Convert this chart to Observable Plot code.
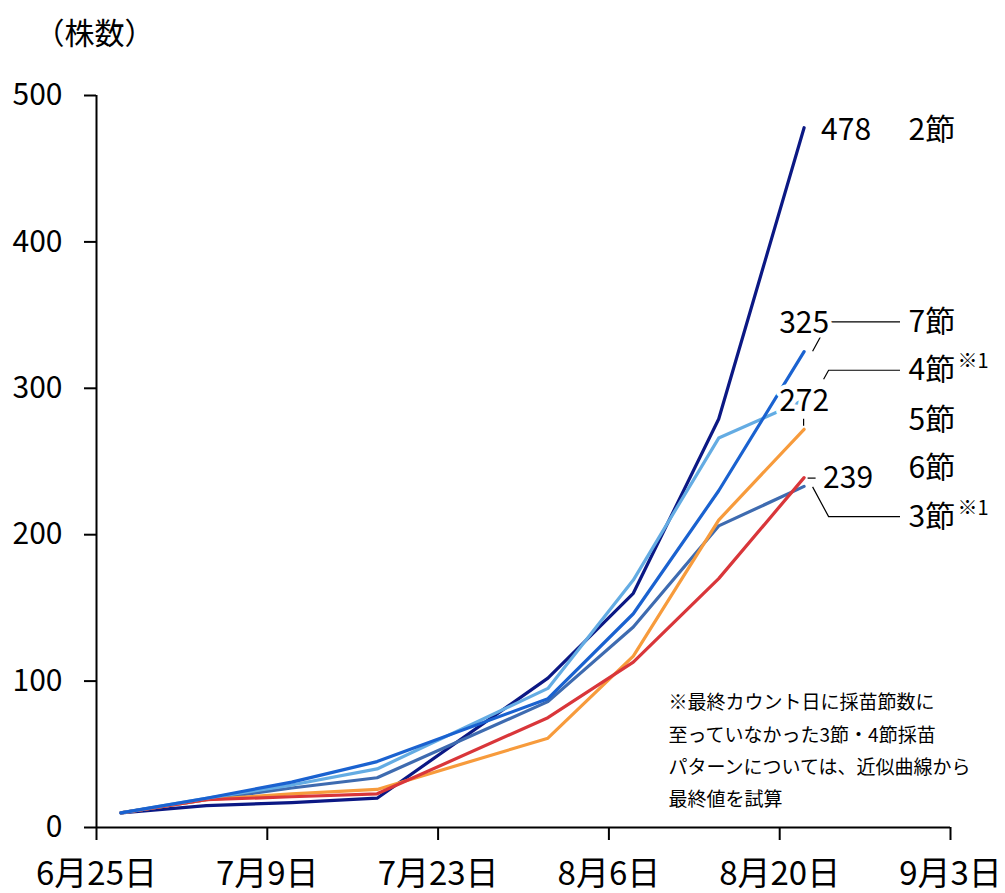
<!DOCTYPE html>
<html>
<head>
<meta charset="utf-8">
<script src="https://cdn.jsdelivr.net/npm/d3@7"></script>
<script src="https://cdn.jsdelivr.net/npm/@observablehq/plot@0.6"></script>
<style>
  html, body { margin: 0; padding: 0; background: #fff; }
  #chart svg { display: block; }
</style>
</head>
<body>
<div id="chart"></div>
<script>
// Weekly count dates
const countDates = ["2023-06-27", "2023-07-04", "2023-07-11", "2023-07-18", "2023-08-01", "2023-08-08", "2023-08-15", "2023-08-22"];

// Cumulative number of plants per seedling-node pattern
const nodes2 = [10, 15, 17, 20, 102, 160, 279, 478];
const nodes3 = [10, 19, 27, 34, 86, 137, 206, 233];
const nodes4 = [10, 20, 29, 40, 95, 169, 266, 292];
const nodes5 = [10, 19, 23, 26, 61, 117, 210, 272];
const nodes6 = [10, 19, 21, 23, 75, 113, 170, 239];
const nodes7 = [10, 20, 31, 45, 88, 146, 230, 325];

// Series, in drawing order (last one on top)
const seriesNames = ["2節", "3節", "5節", "6節", "4節", "7節"];
const seriesColors = ["#0b1884", "#3e6bb0", "#f79b3c", "#d9363a", "#64ace3", "#1a62d0"];

// Axis ticks
const tickDates = ["2023-06-25", "2023-07-09", "2023-07-23", "2023-08-06", "2023-08-20", "2023-09-03"];
const tickLabels = ["6月25日", "7月9日", "7月23日", "8月6日", "8月20日", "9月3日"];
const yTicks = [0, 100, 200, 300, 400, 500];

// Texts
const yTitle = "（株数）";
const noteText = "※最終カウント日に採苗節数に\n至っていなかった3節・4節採苗\nパターンについては、近似曲線から\n最終値を試算";
const valueLabelSeries = ["2節", "7節", "5節", "6節"];
const estimatedSeries = ["4節", "3節"];

// ---- rendering ----
const parse = d3.utcParse("%Y-%m-%d");
const bySeries = {"2節": nodes2, "3節": nodes3, "4節": nodes4, "5節": nodes5, "6節": nodes6, "7節": nodes7};
const table = seriesNames.flatMap(s => countDates.map((d, i) => ({series: s, date: parse(d), count: bySeries[s][i]})));
const lastDate = parse(countDates[countDates.length - 1]);
const finalOf = s => bySeries[s][bySeries[s].length - 1];
const labelByTime = new Map(tickDates.map((d, i) => [+parse(d), tickLabels[i]]));

const W = 1005, H = 893;
const M = {top: 95, right: 55, bottom: 66, left: 96};
const font = `"Noto Sans CJK JP", "Noto Sans", sans-serif`;

// Right-hand series name labels (vertical placement in count units)
const nameLayout = [
  {name: "2節", at: 476},
  {name: "7節", at: 345},
  {name: "4節", at: 312},
  {name: "5節", at: 278},
  {name: "6節", at: 245},
  {name: "3節", at: 212}
];

// value label placement: [textAnchor, dx, dy]
const valuePlacement = {
  "2節": ["start", 17, 3],
  "7節": ["middle", 0, -28],
  "5節": ["middle", 0, -28],
  "6節": ["start", 19, 1]
};

const valueMarks = valueLabelSeries.map(s => Plot.text([s], {
  x: () => lastDate,
  y: d => finalOf(d),
  text: d => String(finalOf(d)),
  textAnchor: valuePlacement[s][0],
  dx: valuePlacement[s][1],
  dy: valuePlacement[s][2],
  fontSize: 30,
  fill: "#000",
  stroke: "#fff",
  strokeWidth: 9,
  strokeLinejoin: "round"
}));

const plot = Plot.plot({
  width: W,
  height: H,
  marginTop: M.top,
  marginRight: M.right,
  marginBottom: M.bottom,
  marginLeft: M.left,
  style: {fontFamily: font, background: "#fff", color: "#000", overflow: "visible"},
  x: {type: "utc", domain: [parse(tickDates[0]), parse(tickDates[tickDates.length - 1])]},
  y: {domain: [0, 500]},
  color: {domain: seriesNames, range: seriesColors},
  marks: [
    Plot.axisY(yTicks, {tickSize: 12, tickPadding: 22, fontSize: 30, label: null, strokeWidth: 2, stroke: "#000"}),
    Plot.axisX(tickDates.map(parse), {
      tickSize: 13, tickPadding: 21, fontSize: 33, label: null, strokeWidth: 2, stroke: "#000",
      tickFormat: d => labelByTime.get(+d)
    }),
    Plot.ruleX([parse(tickDates[0])], {stroke: "#000", strokeWidth: 2}),
    Plot.ruleY([0], {stroke: "#000", strokeWidth: 2}),
    Plot.line(table, {
      x: "date", y: "count", z: "series", stroke: "series",
      strokeWidth: 3.2, strokeLinejoin: "round", strokeLinecap: "round"
    }),
    ...valueMarks,
    Plot.text(nameLayout, {
      y: "at", text: "name", frameAnchor: "right", dx: -42, textAnchor: "start", fontSize: 30, fill: "#000"
    }),
    Plot.text(nameLayout.filter(d => estimatedSeries.includes(d.name)), {
      y: "at", text: () => "※1", frameAnchor: "right", dx: 7, dy: -9, textAnchor: "start", fontSize: 20, fill: "#000"
    }),
    Plot.text([yTitle], {
      text: d => d, frameAnchor: "top-left", dx: -62, dy: -73, textAnchor: "start", fontSize: 30, fill: "#000"
    }),
    Plot.text([noteText], {
      text: d => d, frameAnchor: "top-left", dx: 572, dy: 591, lineAnchor: "top",
      textAnchor: "start", fontSize: 19, lineHeight: 1.7, fill: "#000"
    })
  ]
});

document.getElementById("chart").appendChild(plot);

// Leader lines between labels and line ends, drawn beneath the labels
const sxDesc = plot.scale("x"), syDesc = plot.scale("y");
const xs = d3.scaleUtc(sxDesc.domain, sxDesc.range);
const ys = d3.scaleLinear(syDesc.domain, syDesc.range);
const ex = xs(lastDate);
const nameX = W - M.right - 42 - 8;
const nameY = n => ys(nameLayout.find(d => d.name === n).at);
const endY = n => ys(finalOf(n));

const leaders = [
  [[ex + 9, endY("7節")], [ex + 25, nameY("7節")], [nameX, nameY("7節")]],
  [[ex + 20, nameY("4節") + 9], [ex + 25, nameY("4節")], [nameX, nameY("4節")]],
  [[ex + 9, endY("3節") + 1], [ex + 25, nameY("3節")], [nameX, nameY("3節")]],
  [[ex, endY("5節") - 3], [ex, endY("5節") - 10]],
  [[ex + 4, endY("6節") + 1], [ex + 12, endY("6節") + 1]]
];

const svg = d3.select(plot);
const g = svg.append("g").attr("fill", "none").attr("stroke", "#000").attr("stroke-width", 1.2);
g.selectAll("path").data(leaders).join("path").attr("d", d3.line());
// keep all text marks above the leaders
svg.selectAll('g[aria-label="text"]').raise();
</script>
</body>
</html>
